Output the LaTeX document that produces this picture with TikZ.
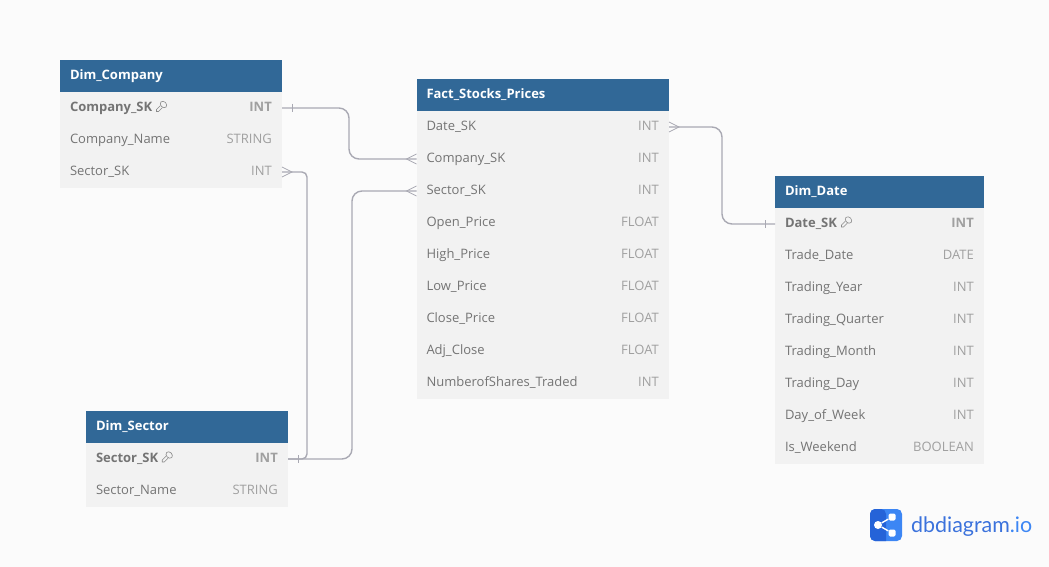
\documentclass[tikz,border=0pt]{standalone}
\usepackage{fontspec}
\setmainfont{Open Sans}
\newfontfamily\logofont{Lato}
\usetikzlibrary{positioning, calc}
\definecolor{cpage}{HTML}{FBFBFB}
\definecolor{chead}{HTML}{316897}
\definecolor{crow}{HTML}{F2F2F2}
\definecolor{cname}{HTML}{747474}
\definecolor{ctype}{HTML}{A0A0A0}
\definecolor{cline}{HTML}{A9A9B3}
\definecolor{cdark}{HTML}{2563D8}
\definecolor{clight}{HTML}{3C86F4}
\tikzset{
  every picture/.style={x=1pt, y=1pt},
  headbox/.style={fill=chead, text=white, font=\fontsize{13}{15}\selectfont\bfseries, text width=#1, inner xsep=10pt, inner ysep=0pt, outer sep=0pt, minimum height=32pt, text height=10pt, text depth=3pt},
  rowbox/.style={fill=crow, text=cname, font=\fontsize{13}{15}\selectfont, text width=#1, inner xsep=10pt, inner ysep=0pt, outer sep=0pt, minimum height=32pt, text height=10pt, text depth=3pt},
  keybox/.style={rowbox=#1, font=\fontsize{13}{15}\selectfont\bfseries},
  typetext/.style={anchor=east, xshift=-10pt, text=ctype, font=\fontsize{13}{15}\selectfont, inner sep=0pt, text height=10pt, text depth=3pt},
  keytype/.style={typetext, font=\fontsize{13}{15}\selectfont\bfseries},
  conn/.style={draw=cline, line width=1.4pt, rounded corners=#1},
  conn/.default=10pt,
  endmark/.style={draw=cline, line width=0.7pt},
  keyicon/.pic={
    \draw[cname!85!white, line width=0.6pt, rotate=45] (0,0) ellipse (2.8 and 3.6);
    \draw[cname!85!white, line width=0.6pt] (-3,-1) -- (-7,-5) -- (-7,-7) -- (-5,-7) -- (-1,-3);
  },
}
\begin{document}
\begin{tikzpicture}
  \useasboundingbox[fill=cpage] (0,0) rectangle (1049,-567);
  % Dim_Company
  \node[headbox=202pt, anchor=north west] (cohead) at (60,-60) {Dim\_Company};
  \node[keybox=202pt, below=0pt of cohead] (cosk) {Company\_SK};
  \node[rowbox=202pt, below=0pt of cosk] (coname) {Company\_Name};
  \node[rowbox=202pt, below=0pt of coname] (cosec) {Sector\_SK};
  \node[keytype] (cosktype) at (cosk.east) {INT};
  \node[typetext] (conametype) at (coname.east) {STRING};
  \node[typetext] (cosectype) at (cosec.east) {INT};
  \pic at ($(cosk.west)+(103.5,3.5)$) {keyicon};
  % Dim_Sector
  \node[headbox=182pt, anchor=north west] (sehead) at (86,-411) {Dim\_Sector};
  \node[keybox=182pt, below=0pt of sehead] (sesk) {Sector\_SK};
  \node[rowbox=182pt, below=0pt of sesk] (sename) {Sector\_Name};
  \node[keytype] (sesktype) at (sesk.east) {INT};
  \node[typetext] (senametype) at (sename.east) {STRING};
  \pic at ($(sesk.west)+(83.2,4)$) {keyicon};
  % Fact_Stocks_Prices
  \node[headbox=232.5pt, anchor=north west] (fahead) at (416.5,-79) {Fact\_Stocks\_Prices};
  \node[rowbox=232.5pt, below=0pt of fahead] (fadate) {Date\_SK};
  \node[rowbox=232.5pt, below=0pt of fadate] (faco) {Company\_SK};
  \node[rowbox=232.5pt, below=0pt of faco] (fasec) {Sector\_SK};
  \node[rowbox=232.5pt, below=0pt of fasec] (faopen) {Open\_Price};
  \node[rowbox=232.5pt, below=0pt of faopen] (fahigh) {High\_Price};
  \node[rowbox=232.5pt, below=0pt of fahigh] (falow) {Low\_Price};
  \node[rowbox=232.5pt, below=0pt of falow] (faclose) {Close\_Price};
  \node[rowbox=232.5pt, below=0pt of faclose] (faadj) {Adj\_Close};
  \node[rowbox=232.5pt, below=0pt of faadj] (fashares) {NumberofShares\_Traded};
  \node[typetext] (fadatetype) at (fadate.east) {INT};
  \node[typetext] (facotype) at (faco.east) {INT};
  \node[typetext] (fasectype) at (fasec.east) {INT};
  \node[typetext] (faopentype) at (faopen.east) {FLOAT};
  \node[typetext] (fahightype) at (fahigh.east) {FLOAT};
  \node[typetext] (falowtype) at (falow.east) {FLOAT};
  \node[typetext] (faclosetype) at (faclose.east) {FLOAT};
  \node[typetext] (faadjtype) at (faadj.east) {FLOAT};
  \node[typetext] (fasharestype) at (fashares.east) {INT};
  % Dim_Date
  \node[headbox=189pt, anchor=north west] (dahead) at (775,-176) {Dim\_Date};
  \node[keybox=189pt, below=0pt of dahead] (dask) {Date\_SK};
  \node[rowbox=189pt, below=0pt of dask] (datrade) {Trade\_Date};
  \node[rowbox=189pt, below=0pt of datrade] (dayear) {Trading\_Year};
  \node[rowbox=189pt, below=0pt of dayear] (daquarter) {Trading\_Quarter};
  \node[rowbox=189pt, below=0pt of daquarter] (damonth) {Trading\_Month};
  \node[rowbox=189pt, below=0pt of damonth] (daday) {Trading\_Day};
  \node[rowbox=189pt, below=0pt of daday] (daweek) {Day\_of\_Week};
  \node[rowbox=189pt, below=0pt of daweek] (daend) {Is\_Weekend};
  \node[keytype] (dasktype) at (dask.east) {INT};
  \node[typetext] (datradetype) at (datrade.east) {DATE};
  \node[typetext] (dayeartype) at (dayear.east) {INT};
  \node[typetext] (daquartertype) at (daquarter.east) {INT};
  \node[typetext] (damonthtype) at (damonth.east) {INT};
  \node[typetext] (dadaytype) at (daday.east) {INT};
  \node[typetext] (daweektype) at (daweek.east) {INT};
  \node[typetext] (daendtype) at (daend.east) {BOOLEAN};
  \pic at ($(dask.west)+(73.5,4)$) {keyicon};
  % connectors
  \draw[conn] (cosk.east) -- ($(cosk.east)+(67,0)$) |- (faco.west);
  \draw[conn=5pt] (cosec.east) -- ($(cosec.east)+(25,0)$) |- (sesk.east);
  \draw[conn] (sesk.east) -- ($(sesk.east)+(64,0)$) |- (fasec.west);
  \draw[conn] (fadate.east) -- ($(fadate.east)+(53,0)$) |- (dask.west);
  % ends: one
  \draw[endmark] ($(cosk.east)+(10,4)$) -- ($(cosk.east)+(10,-4)$);
  \draw[endmark] ($(sesk.east)+(10,4)$) -- ($(sesk.east)+(10,-4)$);
  \draw[endmark] ($(dask.west)+(-10,4)$) -- ($(dask.west)+(-10,-4)$);
  % ends: many
  \draw[endmark] ($(faco.west)+(0,5)$) -- ($(faco.west)+(-10,0)$) -- ($(faco.west)+(0,-5)$);
  \draw[endmark] ($(fasec.west)+(0,5)$) -- ($(fasec.west)+(-10,0)$) -- ($(fasec.west)+(0,-5)$);
  \draw[endmark] ($(cosec.east)+(0,5)$) -- ($(cosec.east)+(10,0)$) -- ($(cosec.east)+(0,-5)$);
  \draw[endmark] ($(fadate.east)+(0,5)$) -- ($(fadate.east)+(10,0)$) -- ($(fadate.east)+(0,-5)$);
  % logo
  \fill[clight, rounded corners=5pt] (870,-509) rectangle (902,-541);
  \fill[cdark, rounded corners=5pt] (870,-509) -- (886,-509) [sharp corners] -- (886,-541) [rounded corners=5pt] -- (870,-541) -- cycle;
  \node[circle, fill=white, inner sep=0pt, minimum size=8pt] (logoa) at (878,-525) {};
  \node[fill=white, rounded corners=1.5pt, inner sep=0pt, minimum size=7pt] (logob) at (892,-517) {};
  \node[fill=white, rounded corners=1.5pt, inner sep=0pt, minimum size=7pt] (logoc) at (892,-533) {};
  \draw[white, line width=1.4pt] (logob) -- (logoa) -- (logoc);
  \node[anchor=west, inner sep=0pt, font=\logofont\fontsize{21.4}{24}\selectfont, text=cdark!90!white] (logotext) at (911,-526.5) {dbdiagram\textcolor{clight}{.io}};
\end{tikzpicture}
\end{document}
